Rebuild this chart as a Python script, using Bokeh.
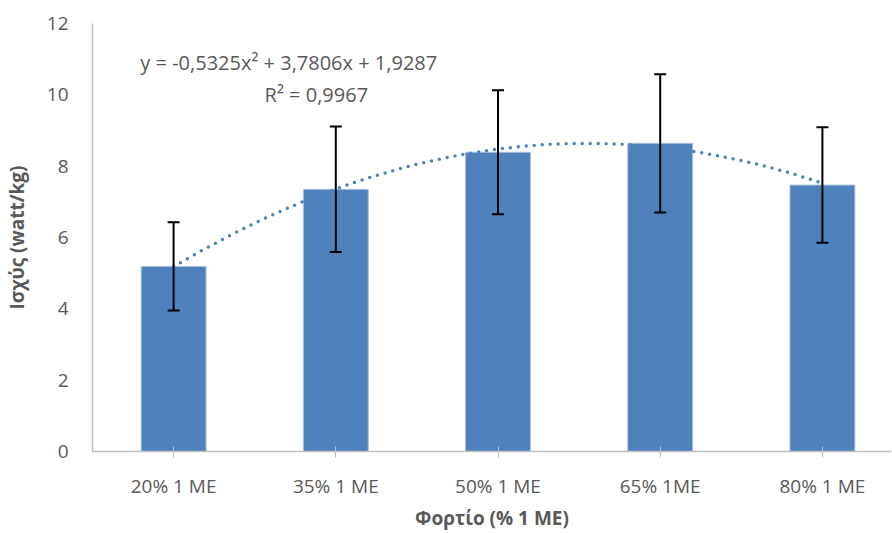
from bokeh.plotting import figure
from bokeh.models import Range1d, FixedTicker, Whisker, TeeHead, ColumnDataSource, Label
from bokeh.embed import file_html
from bokeh.resources import INLINE
import numpy as np

categories = ["20% 1 ME", "35% 1 ME", "50% 1 ME", "65% 1ME", "80% 1 ME"]
power = [5.19, 7.35, 8.39, 8.64, 7.47]
sd = [1.24, 1.76, 1.74, 1.94, 1.62]
trend_coef = [-0.5325, 3.7806, 1.9287]  # quadratic trendline shown on chart
eq_text = "y = -0,5325x² + 3,7806x + 1,9287"
r2_text = "R² = 0,9967"

FONT = "Open Sans"
TXT = "#595959"
BAR = "#4F81BD"

xs = list(range(len(categories)))
src = ColumnDataSource(dict(
    x=xs, top=power,
    upper=[p + s for p, s in zip(power, sd)],
    lower=[p - s for p, s in zip(power, sd)],
))

p = figure(width=892, height=533, output_backend="svg", toolbar_location=None,
           x_range=Range1d(-0.5, 4.426), y_range=Range1d(0, 12),
           min_border_left=91, min_border_right=1, min_border_top=23, min_border_bottom=82)
p.outline_line_color = None
p.grid.visible = False

p.vbar(x="x", top="top", width=0.4, source=src, fill_color=BAR, line_color="#a9c1df", line_width=1)

tx = np.linspace(0, 4, 120)
n = tx + 1
ty = trend_coef[0] * n**2 + trend_coef[1] * n + trend_coef[2]
p.line(tx, ty, line_color=BAR, line_width=3.5, line_dash="0 8", line_cap="round")

w = Whisker(base="x", upper="upper", lower="lower", source=src, line_color="black", line_width=2,
            upper_head=TeeHead(size=12, line_width=2, line_color="black"),
            lower_head=TeeHead(size=12, line_width=2, line_color="black"),
            level="overlay")
p.add_layout(w)

p.add_layout(Label(x=0.71, y=10.9, text=eq_text, text_font=FONT, text_font_size="20px",
                   text_color=TXT, text_align="center", text_baseline="middle"))
p.add_layout(Label(x=0.88, y=10.0, text=r2_text, text_font=FONT, text_font_size="20px",
                   text_color=TXT, text_align="center", text_baseline="middle"))

# axes
p.xaxis.ticker = FixedTicker(ticks=xs)
p.xaxis.major_label_overrides = {i: c for i, c in enumerate(categories)}
p.xaxis.minor_tick_line_color = None
p.xaxis.major_tick_in = 5
p.xaxis.major_tick_out = 6
p.xaxis.major_tick_line_color = "#bfbfbf"
p.xaxis.axis_line_color = "#bfbfbf"
p.xaxis.axis_line_width = 1.5
p.xaxis.major_label_text_font = FONT
p.xaxis.major_label_text_font_size = "19px"
p.xaxis.major_label_text_color = TXT
p.xaxis.major_label_standoff = 15
p.xaxis.axis_label = "Φορτίο (% 1 ME)"
p.xaxis.axis_label_text_font = FONT
p.xaxis.axis_label_text_font_size = "19px"
p.xaxis.axis_label_text_font_style = "bold"
p.xaxis.axis_label_text_color = TXT
p.xaxis.axis_label_standoff = 3

p.yaxis.ticker = FixedTicker(ticks=[0, 2, 4, 6, 8, 10, 12])
p.yaxis.major_tick_line_color = None
p.yaxis.minor_tick_line_color = None
p.yaxis.axis_line_color = "#bfbfbf"
p.yaxis.axis_line_width = 1.5
p.yaxis.major_label_text_font = FONT
p.yaxis.major_label_text_font_size = "19px"
p.yaxis.major_label_text_color = TXT
p.yaxis.major_label_standoff = 18
p.yaxis.axis_label = "Ισχύς (watt/kg)"
p.yaxis.axis_label_text_font = FONT
p.yaxis.axis_label_text_font_size = "19px"
p.yaxis.axis_label_text_font_style = "bold"
p.yaxis.axis_label_text_color = TXT
p.yaxis.axis_label_standoff = 14

open("out.html", "w").write(file_html(p, INLINE))
